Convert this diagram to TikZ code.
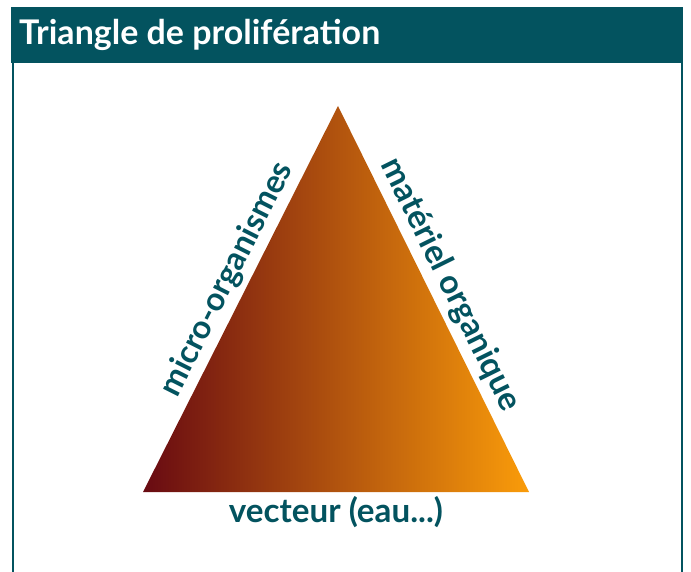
\documentclass[tikz,border=0pt]{standalone}
\usepackage{fontspec}
\setmainfont{Lato}
\usepackage{graphicx}
\usetikzlibrary{calc}
\definecolor{teal1}{HTML}{03535F}
\definecolor{tleft}{HTML}{680A12}
\definecolor{tright}{HTML}{FA9C0A}
\newcommand\fitw[2]{\resizebox{#1}{!}{#2}}
\begin{document}
\begin{tikzpicture}[x=1pt,y=-1pt,
  lbl/.style={text=teal1,font=\bfseries,inner sep=0pt}]
\useasboundingbox (0,0) rectangle (691,572);
% frame
\fill[teal1] (11,7) rectangle (683,63);
\draw[teal1,line width=2pt] (12.5,63) -- (12.5,572);
\draw[teal1,line width=2pt] (681.5,63) -- (681.5,572);
\node[anchor=base west,text=white,font=\bfseries,inner sep=0pt] (title) at (19,44.3) {\fitw{361pt}{Triangle de prolifération}};
% triangle
\coordinate (A) at (338,106);
\coordinate (B) at (143,492);
\coordinate (C) at (529,492);
\shade[left color=tleft,right color=tright] (A) -- (B) -- (C) -- cycle;
% labels
\node[lbl,anchor=base,rotate=63.2] (micro) at ($(245.8,288.6)+(-10.5,-5.3)$) {\fitw{257pt}{micro-organismes}};
\node[lbl,anchor=base,rotate=-63.7] (mat) at ($(431.1,294.2)+(10.8,-5.3)$) {\fitw{277pt}{matériel organique}};
\node[lbl,anchor=base] (vect) at (336,522) {\fitw{214pt}{vecteur (eau...)}};
\end{tikzpicture}
\end{document}
